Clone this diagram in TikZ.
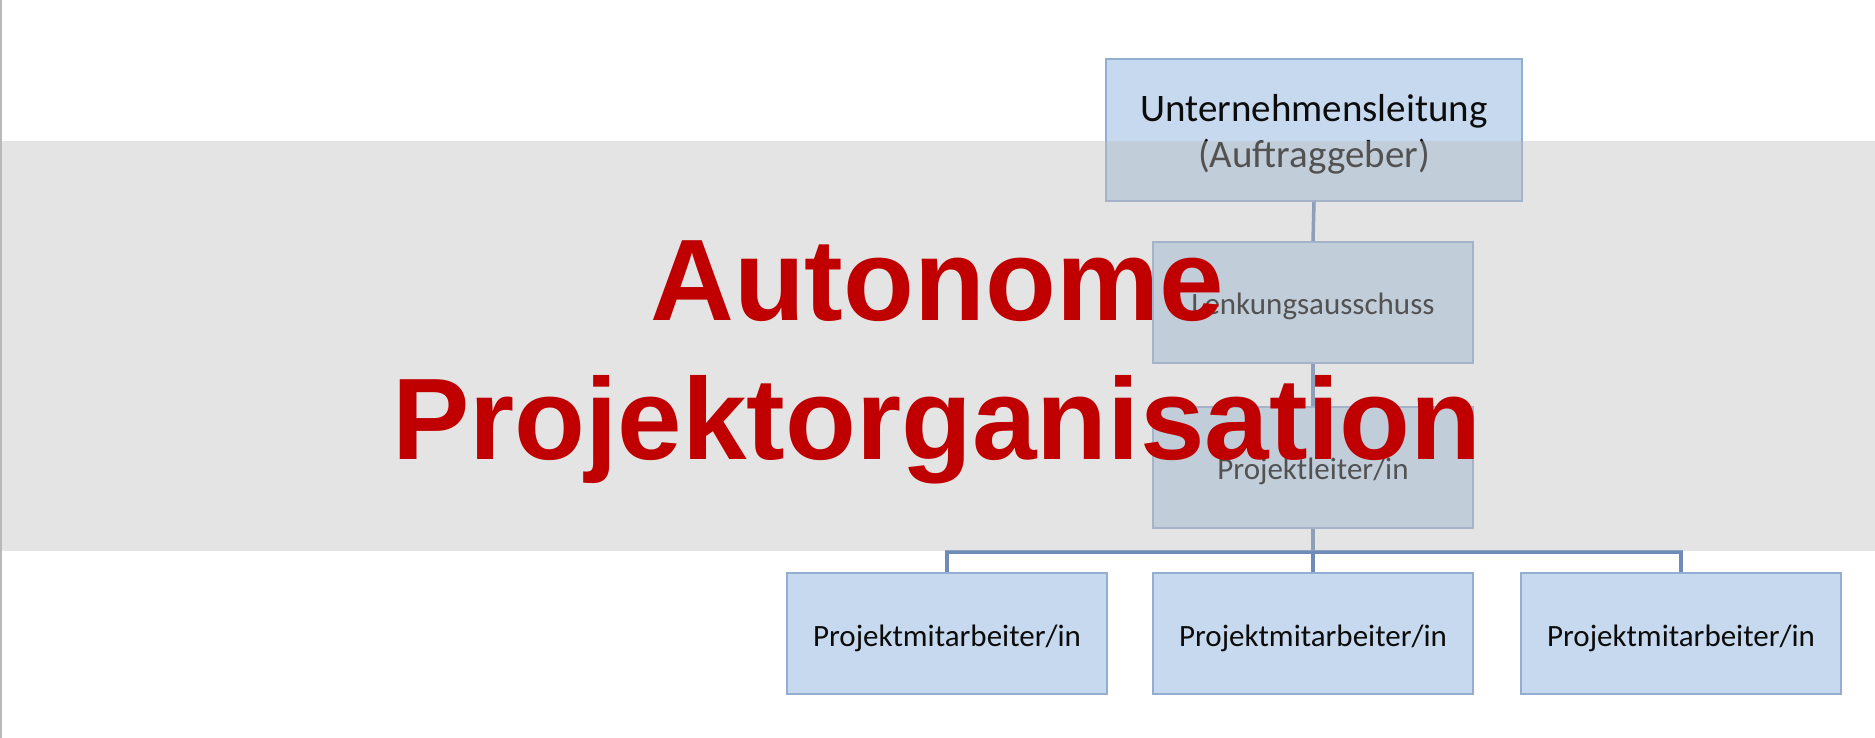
\documentclass[tikz,border=0pt]{standalone}
\usepackage{fontspec}
\setmainfont{Carlito}
\newfontfamily\titlefont{Liberation Sans}
\definecolor{boxfill}{RGB}{198,217,238}
\definecolor{boxborder}{RGB}{148,174,210}
\definecolor{linkcol}{RGB}{110,140,185}
\definecolor{boxtext}{RGB}{12,12,12}
\definecolor{bandgray}{RGB}{188,188,188}
\definecolor{titlered}{RGB}{192,0,0}
\definecolor{edgegray}{RGB}{185,185,185}
\tikzset{
  orgbox/.style={draw=boxborder, line width=2pt, fill=boxfill, inner sep=0pt,
    minimum width=320pt, minimum height=121pt, text=boxtext,
    font=\fontsize{31}{37}\selectfont, align=center,
    text height=25pt, text depth=0pt},
  topbox/.style={orgbox, minimum width=416pt, minimum height=142pt,
    font=\fontsize{39}{46}\selectfont, text height=85pt, text depth=9pt},
  link/.style={draw=linkcol, line width=3.5pt},
  titletext/.style={text=titlered, inner sep=0pt,
    font=\titlefont\bfseries\fontsize{116}{139}\selectfont}
}
\begin{document}
\begin{tikzpicture}[x=1pt,y=-1pt]
\useasboundingbox (0,0) rectangle (1875,738);
\fill[white] (0,0) rectangle (1875,738);
% organisation chart
\node[topbox] (b1) at (1314,130) {Unternehmensleitung\\(Auftraggeber)};
\node[orgbox] (b2) at (1313,302.5) {Lenkungsausschuss};
\node[orgbox] (b3) at (1313,467) {Projektleiter/in};
\node[orgbox] (p1) at (947,633.5) {Projektmitarbeiter/in};
\node[orgbox] (p2) at (1313,633.5) {Projektmitarbeiter/in};
\node[orgbox] (p3) at (1681,633.5) {Projektmitarbeiter/in};
\coordinate (jn) at (1313,552);
\draw[link] (b1.south) -- (b2.north);
\draw[link] (b2.south) -- (b3.north);
\draw[link] (b3.south) -- (jn);
\draw[link] (p1.north) |- (jn) -| (p3.north);
\draw[link] (jn) -- (p2.north);
% translucent band
\fill[bandgray, fill opacity=0.4] (0,141) rectangle (1875,551);
% left edge line
\draw[edgegray, line width=2pt] (1,0) -- (1,738);
% title
\node[titletext, anchor=base] (t1) at (937,320) {Autonome};
\node[titletext, anchor=base] (t2) at (937,459) {Projektorganisation};
\end{tikzpicture}
\end{document}
